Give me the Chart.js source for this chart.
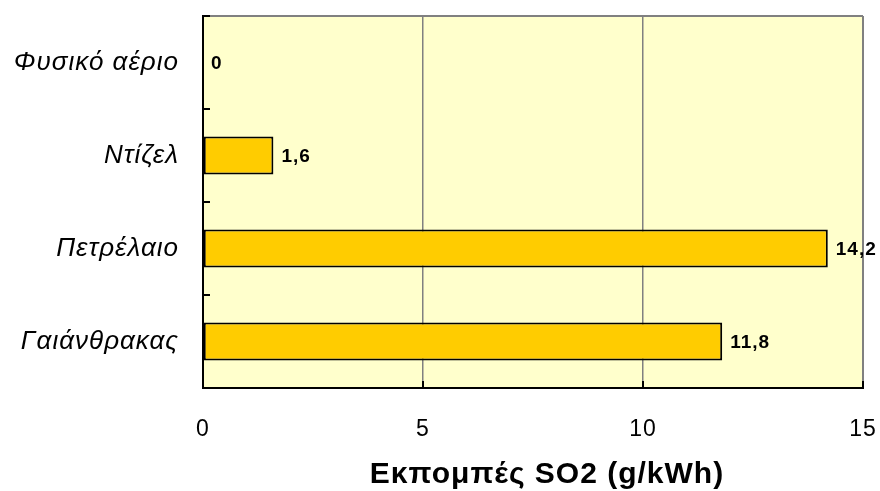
<!DOCTYPE html>
<html>
<head>
<meta charset="utf-8">
<script src="https://cdn.jsdelivr.net/npm/chart.js@4.4.1/dist/chart.umd.min.js"></script>
<style>
  html, body { margin: 0; padding: 0; background: #fff; }
  #wrap { width: 880px; height: 491px; }
</style>
</head>
<body>
<div id="wrap"><canvas id="so2Chart" width="880" height="491"></canvas></div>
<script>
const categories = ['Φυσικό αέριο', 'Ντίζελ', 'Πετρέλαιο', 'Γαιάνθρακας'];
const emissions = [0, 1.6, 14.2, 11.8];
const xTicks = [0, 5, 10, 15];
const xTitle = 'Εκπομπές SO2 (g/kWh)';

const FONT = '"Liberation Sans", Arial, sans-serif';

// plot background + frame with inward ticks + value labels + axis title
const framePlugin = {
    id: 'frame',
    beforeDraw(chart) {
        const a = chart.chartArea, c = chart.ctx;
        c.letterSpacing = '1px'; // original text is set a bit wider
        c.save();
        c.fillStyle = '#FFFFCC';
        c.fillRect(a.left, a.top, a.right - a.left, a.bottom - a.top);
        c.restore();
    },
    afterDatasetsDraw(chart) {
        const a = chart.chartArea, c = chart.ctx;
        const xs = chart.scales.x;
        c.save();
        c.lineWidth = 2;
        c.strokeStyle = '#808080';
        c.beginPath();
        c.moveTo(a.left, a.top); c.lineTo(a.right, a.top);
        c.moveTo(a.right, a.top); c.lineTo(a.right, a.bottom);
        c.stroke();
        c.strokeStyle = '#000';
        c.beginPath();
        c.moveTo(a.left, a.top - 1); c.lineTo(a.left, a.bottom);
        c.lineTo(a.right + 1, a.bottom);
        c.stroke();
        c.beginPath();
        xTicks.forEach(v => {
            const px = Math.round(xs.getPixelForValue(v));
            c.moveTo(px, a.bottom); c.lineTo(px, a.bottom - 7);
        });
        for (let i = 0; i <= categories.length; i++) {
            const py = Math.round(a.top + (a.bottom - a.top) * i / categories.length);
            c.moveTo(a.left, py); c.lineTo(a.left + 7, py);
        }
        c.stroke();
        c.fillStyle = '#000';
        c.font = 'bold 19px ' + FONT;
        c.textBaseline = 'middle';
        c.textAlign = 'left';
        chart.getDatasetMeta(0).data.forEach((bar, i) => {
            c.fillText(String(emissions[i]).replace('.', ','), bar.x + 8, bar.y + 1);
        });
        // axis title sits a little right of the plot centre in the original
        c.font = 'bold 30px ' + FONT;
        c.letterSpacing = '1px';
        c.textAlign = 'center';
        c.fillText(xTitle, 547, 475);
        c.restore();
    }
};

new Chart(document.getElementById('so2Chart').getContext('2d'), {
    type: 'bar',
    data: {
        labels: categories,
        datasets: [{
            data: emissions,
            backgroundColor: '#FFCC00',
            borderColor: '#000',
            borderWidth: 2,
            borderSkipped: false,
            barPercentage: 0.41,
            categoryPercentage: 1
        }]
    },
    options: {
        indexAxis: 'y',
        responsive: false,
        animation: false,
        layout: { padding: { top: 16, right: 17, left: 0, bottom: 0 } },
        plugins: { legend: { display: false }, tooltip: { enabled: false } },
        scales: {
            x: {
                min: 0, max: 15,
                afterBuildTicks: s => { s.ticks = xTicks.map(v => ({ value: v })); },
                afterFit: s => { s.height = 103; s.paddingLeft = 0; s.paddingRight = 0; },
                grid: { color: '#808080', drawTicks: false, lineWidth: 1.5 },
                border: { display: false },
                ticks: {
                    color: '#000', padding: 28,
                    font: { family: FONT, size: 23 }
                }
            },
            y: {
                afterFit: s => { s.width = 203; s.paddingTop = 0; s.paddingBottom = 0; },
                grid: { display: false, drawTicks: false },
                border: { display: false },
                ticks: {
                    color: '#000', padding: 24,
                    font: { family: FONT, size: 26, style: 'italic' }
                }
            }
        }
    },
    plugins: [framePlugin]
});
</script>
</body>
</html>
